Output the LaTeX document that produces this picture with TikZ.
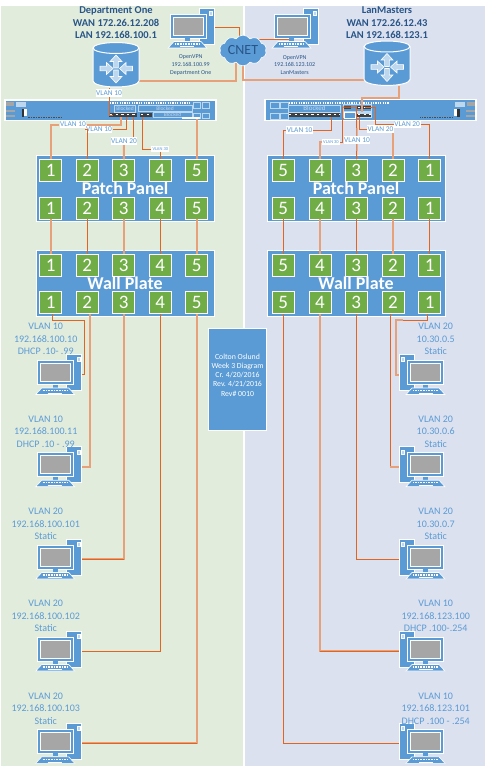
\documentclass[tikz,border=0pt]{standalone}
\usepackage{fontspec}
\setmainfont{Carlito}
\usepackage{tikz}
\usetikzlibrary{calc,shapes.symbols}
\definecolor{NetBlue}{RGB}{91,155,213}
\definecolor{NetPale}{RGB}{189,215,238}
\definecolor{NetGreen}{RGB}{112,173,71}
\definecolor{PaneGreen}{RGB}{226,236,220}
\definecolor{PaneBlue}{RGB}{220,225,239}
\definecolor{WireDark}{RGB}{226,100,30}
\definecolor{WireLight}{RGB}{232,160,120}
\definecolor{TitleBlue}{RGB}{40,85,135}
\definecolor{ScreenGray}{RGB}{166,166,166}
\tikzset{
  wire/.style={draw=WireDark,line width=1pt},
  wirelt/.style={draw=WireLight,line width=2pt},
  numbox/.style={draw=white,fill=NetGreen,line width=0.8pt,minimum width=22pt,minimum height=22pt,inner sep=0pt,text=white,font=\fontsize{19}{19}\selectfont},
  panelbox/.style={draw=white,fill=NetBlue,line width=0.8pt,minimum width=178pt,minimum height=66.5pt,inner sep=0pt,text=white,font=\fontsize{18}{18}\bfseries\selectfont},
  vlab/.style={fill=white,inner xsep=0.6pt,inner ysep=1.5pt,text=NetBlue,font=\fontsize{7.4}{7.4}\selectfont},
  vlabs/.style={fill=white,inner sep=1.2pt,text=NetBlue,font=\fontsize{4.5}{4.5}\selectfont},
  pclab/.style={align=center,inner sep=0pt,text=NetBlue,font=\fontsize{10}{12.3}\selectfont},
  toplab/.style={align=center,inner sep=0pt,text=TitleBlue,font=\fontsize{10.5}{12.5}\bfseries\selectfont},
  vpnlab/.style={align=center,inner sep=0pt,text=TitleBlue,font=\fontsize{6}{7.8}\selectfont},
  blockbox/.style={draw=NetPale,fill=NetBlue,line width=0.5pt,inner sep=0pt,text=NetPale,font=\fontsize{5.5}{5.5}\selectfont},
  portrow/.style={draw=black!75,line width=3.5pt},
  portgap/.style={draw=white,line width=1.6pt,dash pattern=on 2.4pt off 3.2pt},
  tickrow/.style={draw=white,line width=2pt,dash pattern=on 1.2pt off 1.2pt},
  pics/pc/.style={code={
    \filldraw[fill=NetBlue,draw=white,line width=0.8pt] (-15,-20) rectangle (0,16);
    \filldraw[fill=NetPale,draw=white,line width=0.4pt] (-5,-17) rectangle (-2,-13);
    \filldraw[fill=NetBlue,draw=white,line width=0.8pt] (-44,-14) rectangle (-8,10);
    \filldraw[fill=ScreenGray,draw=white,line width=0.8pt] (-41,-11) rectangle (-11,7);
    \fill[NetBlue] (-29,10) rectangle (-24,13);
    \filldraw[fill=NetBlue,draw=white,line width=0.6pt] (-46,20) -- (-40,13.5) -- (-13,13.5) -- (-7,20) -- cycle;
    \draw[white,line width=1.2pt,dash pattern=on 0.8pt off 0.8pt] (-39,16) -- (-14,16);
    \draw[white,line width=0.8pt] (-34,18.6) -- (-20,18.6);
  }},
  pics/rtarrow/.style={code={
    \filldraw[fill=NetPale,draw=white,line width=0.6pt] (-5,-1.8) -- (0,-1.8) -- (0,-4.6) -- (5,0) -- (0,4.6) -- (0,1.8) -- (-5,1.8) -- cycle;
  }},
  pics/router/.style={code={
    \filldraw[fill=NetBlue,draw=white,line width=1pt] (-23,-16.5) -- (-23,16.5) arc[start angle=180,end angle=0,x radius=23,y radius=6] -- (23,-16.5);
    \filldraw[fill=NetBlue,draw=white,line width=1pt] (0,-16.5) ellipse[x radius=23,y radius=5.5];
    \pic[rotate=90,scale=1.3] at (0,-3) {rtarrow};
    \pic[rotate=-90,scale=1.3] at (0,12) {rtarrow};
    \pic[rotate=0,scale=1.3] at (-9.5,4) {rtarrow};
    \pic[rotate=180,scale=1.3] at (10,4) {rtarrow};
  }},
  pics/swend/.style={code={
    \fill[black!35] (1,1.5) rectangle (9,5.5);
    \fill[black!35] (1,10) rectangle (10,12);
    \fill[black!35] (1,14.5) rectangle (10,16.5);
    \fill[NetPale] (11,1.5) rectangle (21,7);
    \fill[black!80] (16.5,9) rectangle (19,17);
    \fill[white] (19,9) rectangle (22,16);
    \draw[black!70,line width=0.8pt,dash pattern=on 1.5pt off 1pt] (23,17.5) -- (56,17.5);
  }},
}

\begin{document}
\begin{tikzpicture}[x=1pt,y=-1pt]
\useasboundingbox (0,0) rectangle (486,768);
\fill[PaneGreen] (1,6) rectangle (243,766);
\fill[PaneBlue] (244.5,6) rectangle (485,766);

\coordinate (cnetl) at (236,60);
\coordinate (cnetr) at (243,60);
\coordinate (cnettop) at (239,40);
\coordinate (toppcl) at (214,28);
\coordinate (toppcr) at (318,28);
\coordinate (toppcrb) at (290,40);
\coordinate (cnetrb) at (251,40);
\coordinate (lrt) at (116,64.5);
\coordinate (rrt) at (387,63);
\coordinate (lrte) at (139,81);
\coordinate (rrtw) at (364,80);
\coordinate (lrts) at (109,88);
\coordinate (rrts) at (399,86);

% uplinks
\draw[wire] (toppcl) -| (cnettop);
\draw[wire] (cnetrb) -- (toppcrb);
\draw[wirelt] (lrte) -| (cnetl);
\draw[wirelt] (rrtw) -| (cnetr);

\pic at (toppcl) {pc};
\pic at (toppcr) {pc};
\node[cloud,cloud puffs=10,cloud puff arc=110,aspect=1.7,draw=white,fill=NetBlue,line width=0.6pt,minimum width=47pt,minimum height=28pt,inner sep=0pt,text=TitleBlue,font=\fontsize{14}{14}\selectfont] (cnet) at (243,50.5) {CNET};
\pic at (lrt) {router};
\pic at (rrt) {router};

\node[toplab] (ltop) at (116,22.7) {Department One\\WAN 172.26.12.208\\LAN 192.168.100.1};
\node[toplab] (rtop) at (387,22.7) {LanMasters\\WAN 172.26.12.43\\LAN 192.168.123.1};
\node[vpnlab] (lvpn) at (190.7,65) {OpenVPN\\192.168.100.99\\Department One};
\node[vpnlab] (rvpn) at (294.7,65) {OpenVPN\\192.168.123.102\\LanMasters};

% left switch
\node[draw=white,fill=NetBlue,line width=1.2pt,minimum width=211pt,minimum height=20.5pt,inner sep=0pt] (lsw) at (110.5,110.2) {};
\pic at (5,100) {swend};
\draw[tickrow] (110,103) -- (190,103);
\node[blockbox,minimum width=21pt,minimum height=7pt] (lbk1) at (125,108.5) {Blocked};
\node[blockbox,minimum width=54pt,minimum height=6.5pt] (lbk2) at (165,108.3) {Blocked};
\node[blockbox,minimum width=39pt,minimum height=5.5pt] (lbk3) at (172.5,114.5) {Blocked};
\draw[portrow] (109,115) -- (137,115);
\draw[portgap] (110,114.6) -- (137,114.6);
\draw[portrow] (140,115) -- (152,115);
\draw[portgap] (141,114.6) -- (152,114.6);
\draw[NetPale,line width=0.8pt] (193.5,102.5) rectangle (200.5,108);
\draw[NetPale,line width=0.8pt] (202.5,102.5) rectangle (209.5,108);
\draw[NetPale,line width=0.8pt] (193.5,113) rectangle (200.5,118);
\draw[NetPale,line width=0.8pt] (202.5,113) rectangle (209.5,118);
\fill[white] (182,117) rectangle (200,119);

% right switch
\node[draw=white,fill=NetBlue,line width=1.2pt,minimum width=211pt,minimum height=21pt,inner sep=0pt] (rsw) at (370.5,110) {};
\pic[xscale=-1] at (476,100) {swend};
\draw[tickrow] (289,103) -- (389,103);
\node[blockbox,minimum width=52pt,minimum height=7pt,font=\fontsize{7}{7}\selectfont] (rbk1) at (314.5,108.5) {Blocked};
\draw[portrow] (288,115) -- (340,115);
\draw[portgap] (289,114.6) -- (340,114.6);
\fill[NetPale] (343,104) rectangle (372,118);
\fill[NetBlue] (344,104.5) rectangle (371,111);
\node[draw=white,fill=NetBlue,line width=0.5pt,minimum width=11pt,minimum height=6pt,inner sep=0pt] (rbk2) at (349.5,115) {};
\draw[portrow,line width=3pt] (344,107.5) -- (351,107.5);
\draw[portrow,line width=3pt] (357,107.5) -- (371,107.5);
\draw[portrow,line width=3pt] (357,115) -- (371,115);
\draw[portgap,line width=1pt] (358,114.6) -- (371,114.6);
\draw[portgap,line width=1pt] (358,107.2) -- (371,107.2);
\draw[NetPale,line width=0.8pt] (270,102.5) rectangle (279,108);
\draw[NetPale,line width=0.8pt] (280.5,102.5) rectangle (288,108);
\draw[NetPale,line width=0.8pt] (270,113.5) rectangle (279,119);
\draw[NetPale,line width=0.8pt] (280.5,113.5) rectangle (288,119);

% panels
\node[panelbox] (lpp) at (125,188.3) {Patch Panel};
\node[panelbox] (lwp) at (125,283.3) {Wall Plate};
\node[panelbox] (rpp) at (356,188.3) {Patch Panel};
\node[panelbox] (rwp) at (356,283.3) {Wall Plate};

\node[numbox] (lpt1) at (50.7,170.7) {1};
\node[numbox] (lpt2) at (87.3,170.7) {2};
\node[numbox] (lpt3) at (123.7,170.7) {3};
\node[numbox] (lpt4) at (160.3,170.7) {4};
\node[numbox] (lpt5) at (196.7,170.7) {5};
\node[numbox] (lpb1) at (50.7,208) {1};
\node[numbox] (lpb2) at (87.3,208) {2};
\node[numbox] (lpb3) at (123.7,208) {3};
\node[numbox] (lpb4) at (160.3,208) {4};
\node[numbox] (lpb5) at (196.7,208) {5};
\node[numbox] (lwt1) at (50.7,265) {1};
\node[numbox] (lwt2) at (87.3,265) {2};
\node[numbox] (lwt3) at (123.7,265) {3};
\node[numbox] (lwt4) at (160.3,265) {4};
\node[numbox] (lwt5) at (196.7,265) {5};
\node[numbox] (lwb1) at (50.7,302.7) {1};
\node[numbox] (lwb2) at (87.3,302.7) {2};
\node[numbox] (lwb3) at (123.7,302.7) {3};
\node[numbox] (lwb4) at (160.3,302.7) {4};
\node[numbox] (lwb5) at (196.7,302.7) {5};

\node[numbox] (rpt5) at (283.3,170.7) {5};
\node[numbox] (rpt4) at (320,170.7) {4};
\node[numbox] (rpt3) at (356.3,170.7) {3};
\node[numbox] (rpt2) at (393,170.7) {2};
\node[numbox] (rpt1) at (429.7,170.7) {1};
\node[numbox] (rpb5) at (283.3,208) {5};
\node[numbox] (rpb4) at (320,208) {4};
\node[numbox] (rpb3) at (356.3,208) {3};
\node[numbox] (rpb2) at (393,208) {2};
\node[numbox] (rpb1) at (429.7,208) {1};
\node[numbox] (rwt5) at (283.3,265) {5};
\node[numbox] (rwt4) at (320,265) {4};
\node[numbox] (rwt3) at (356.3,265) {3};
\node[numbox] (rwt2) at (393,265) {2};
\node[numbox] (rwt1) at (429.7,265) {1};
\node[numbox] (rwb5) at (283.3,302.7) {5};
\node[numbox] (rwb4) at (320,302.7) {4};
\node[numbox] (rwb3) at (356.3,302.7) {3};
\node[numbox] (rwb2) at (393,302.7) {2};
\node[numbox] (rwb1) at (429.7,302.7) {1};

% switch links
\node[vlab] (lvlr) at (109,93) {VLAN 10};
\node[vlab] (lvl1) at (73,124.5) {VLAN 10};
\node[vlab] (lvl2) at (99,129.3) {VLAN 10};
\node[vlab] (lvl3) at (124,141) {VLAN 20};
\node[vlabs] (lvl4) at (160.3,149) {VLAN 30};
\node[vlab] (rvl1) at (299.7,130) {VLAN 10};
\node[vlabs] (rvl2) at (331,142) {VLAN 30};
\node[vlab] (rvl3) at (357,140) {VLAN 10};
\node[vlab] (rvl4) at (380.5,129.3) {VLAN 20};
\node[vlab] (rvl5) at (407.2,124.3) {VLAN 20};

\coordinate (lswr) at (113,115);
\coordinate (lsw1) at (120.7,117);
\coordinate (lsw2) at (126.7,117);
\coordinate (lsw3) at (133.3,117);
\coordinate (lsw4) at (142.3,117);
\coordinate (lsw5) at (196.7,119);
\coordinate (rswr) at (362,112);
\coordinate (rsw1) at (331.3,117);
\coordinate (rsw2) at (342.3,107);
\coordinate (rsw3a) at (343,107);
\coordinate (rsw3) at (356.3,107);
\coordinate (rsw4) at (359.7,117);
\coordinate (rsw5a) at (365,107);
\coordinate (rsw5) at (375.7,107);

\draw[wire] (lvlr) |- (lswr);
\draw[wire] (lrts) -- (lvlr);
\draw[wirelt] (lsw1) |- (lvl1) -| (lpt1);
\draw[wire] (lsw2) |- (lvl2) -| (lpt2);
\draw[wire] (lsw3) -- (lsw3 |- lvl3.north);
\draw[wirelt] (lvl3) -- (lpt3);
\draw[wire] (lsw4) |- (lvl4);
\draw[wire] (lvl4) -- (lpt4);
\draw[wirelt] (lsw5) -- (lpt5);

\draw[wirelt] (rrts) -- ++(0,11.7) -| (rswr);
\draw[wire] (rsw1) |- (rvl1) -| (rpt5);
\draw[wire] (rsw2) |- (rvl2);
\draw[wirelt] (rvl2) -| (rpt4);
\draw[wire] (rsw3a) -- (rsw3) -- (rvl3);
\draw[wire] (rvl3) -- (rpt3);
\draw[wire] (rsw4) |- (rvl4);
\draw[wirelt] (rpt2 |- rvl4.south) -- (rpt2);
\draw[wire] (rsw5a) -- (rsw5) |- (rvl5);
\draw[wire] (rvl5) -| (rpt1);

% patch to wall
\draw[wirelt] (lpb1) -- (lwt1);
\draw[wire] (lpb2) -- (lwt2);
\draw[wirelt] (lpb3) -- (lwt3);
\draw[wire] (lpb4) -- (lwt4);
\draw[wirelt] (lpb5) -- (lwt5);
\draw[wire] (rpb5) -- (rwt5);
\draw[wirelt] (rpb4) -- (rwt4);
\draw[wire] (rpb3) -- (rwt3);
\draw[wirelt] (rpb2) -- (rwt2);
\draw[wire] (rpb1) -- (rwt1);

% wall to desks
\coordinate (lpc1) at (81.7,374.5);
\coordinate (lpc2) at (81.7,466.7);
\coordinate (lpc3) at (81.7,559);
\coordinate (lpc4) at (81.7,651);
\coordinate (lpc5) at (81.7,743.3);
\coordinate (rpc1) at (399,374.5);
\coordinate (rpc2) at (399,466.7);
\coordinate (rpc3) at (399,559);
\coordinate (rpc4) at (399,651);
\coordinate (rpc5) at (399,743.3);
\coordinate (lja) at (52.3,320);
\coordinate (ljb) at (84.3,320);
\coordinate (ljc) at (90,320);
\coordinate (rja) at (427.3,320);
\coordinate (rjb) at (403,320);
\coordinate (rjc) at (395.7,320);
\coordinate (rjd) at (390.3,320);

\draw[wire] (lja |- lwb1.south) -- (lja) -- (ljb) |- (lpc1);
\draw[wirelt] (ljc |- lwb2.south) |- (lpc2);
\draw[wirelt] (lwb3) |- (lpc3);
\draw[wire] (lwb3 |- lpc3) -- (lpc3);
\draw[wire] (lwb4) |- (lpc4);
\draw[wirelt] (lwb5) |- (lpc5);
\draw[wire] (lwb5 |- lpc5) -- (lpc5);

\draw[wire] (rja |- rwb1.south) -- (rja) -- (rjb);
\draw[wirelt] (rjb) -- (rjc) |- (rpc1);
\draw[wire] (rjd |- rwb2.south) |- (rpc2);
\draw[wirelt] (rjd |- rpc2) -- (rpc2);
\draw[wire] (rwb3) |- (rpc3);
\draw[wirelt] (rwb4) |- (rpc4);
\draw[wire] (rwb4 |- rpc4) -- (rpc4);
\draw[wire] (rwb5) |- (rpc5);

\pic at (lpc1) {pc};
\pic at (lpc2) {pc};
\pic at (lpc3) {pc};
\pic at (lpc4) {pc};
\pic at (lpc5) {pc};
\pic[xscale=-1] at (rpc1) {pc};
\pic[xscale=-1] at (rpc2) {pc};
\pic[xscale=-1] at (rpc3) {pc};
\pic[xscale=-1] at (rpc4) {pc};
\pic[xscale=-1] at (rpc5) {pc};

\node[pclab] (llab1) at (45.7,339) {VLAN 10\\192.168.100.10\\DHCP .10- .99};
\node[pclab] (llab2) at (45.7,431.5) {VLAN 10\\192.168.100.11\\DHCP .10 - .99};
\node[pclab] (llab3) at (45.7,524) {VLAN 20\\192.168.100.101\\Static};
\node[pclab] (llab4) at (45.7,616) {VLAN 20\\192.168.100.102\\Static};
\node[pclab] (llab5) at (45.7,708.5) {VLAN 20\\192.168.100.103\\Static};
\node[pclab] (rlab1) at (435.7,339) {VLAN 20\\10.30.0.5\\Static};
\node[pclab] (rlab2) at (435.7,431.5) {VLAN 20\\10.30.0.6\\Static};
\node[pclab] (rlab3) at (435.7,524) {VLAN 20\\10.30.0.7\\Static};
\node[pclab] (rlab4) at (435.7,616) {VLAN 10\\192.168.123.100\\DHCP .100-.254};
\node[pclab] (rlab5) at (435.7,708.5) {VLAN 10\\192.168.123.101\\DHCP .100 - .254};

\node[draw=white,fill=NetBlue,line width=0.8pt,minimum width=58pt,minimum height=102pt,inner sep=0pt] (infobox) at (237.5,379) {};
\node[align=center,inner sep=0pt,text=white,font=\fontsize{7.8}{9.2}\selectfont] (infotxt) at (237.5,375) {Colton Oslund\\Week 3 Diagram\\Cr. 4/20/2016\\Rev. 4/21/2016\\Rev\# 0010};
\end{tikzpicture}
\end{document}
